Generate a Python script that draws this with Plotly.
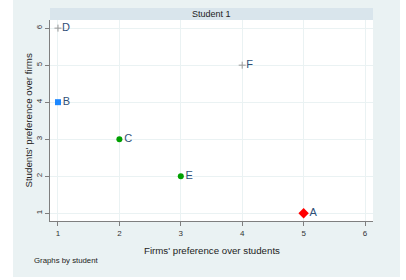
import plotly.graph_objects as go

names = ["A", "B", "C", "D", "E", "F"]
firms_pref = [5, 1, 2, 1, 3, 4]
students_pref = [1, 4, 3, 6, 2, 5]
groups = ["red", "blue", "green", "plus", "green", "plus"]
x_ticks = [1, 2, 3, 4, 5, 6]
y_ticks = [1, 2, 3, 4, 5, 6]
panel_title = "Student 1"

style = {
    "red": dict(color="#ff0000", symbol="diamond", size=8),
    "blue": dict(color="#1e88ff", symbol="square", size=6),
    "green": dict(color="#00a000", symbol="circle", size=6),
    "plus": dict(color="#9a9a9a", symbol="cross-thin", size=5, line=dict(color="#9a9a9a", width=1)),
}

fig = go.Figure()
for g in ["red", "blue", "green", "plus"]:
    idx = [i for i, v in enumerate(groups) if v == g]
    fig.add_trace(go.Scatter(
        x=[firms_pref[i] for i in idx],
        y=[students_pref[i] for i in idx],
        text=[names[i] for i in idx],
        mode="markers+text",
        textposition="middle right",
        textfont=dict(family="Liberation Sans, Arial", size=11, color="#2f4f78"),
        marker=style[g],
        showlegend=False,
        cliponaxis=False,
    ))

bg = "#eaf2f3"
fig.update_layout(
    width=406, height=280,
    margin=dict(l=50, r=33, t=20, b=59),
    paper_bgcolor=bg,
    plot_bgcolor="white",
    font=dict(family="Liberation Sans, Arial", color="#222"),
    shapes=[
        dict(type="rect", xref="paper", yref="paper", x0=-0.2, x1=-0.1146, y0=-0.4, y1=1.2,
             fillcolor="white", line=dict(width=0), layer="above"),
        dict(type="rect", xref="paper", yref="paper", x0=1.0836, x1=1.2, y0=-0.4, y1=1.2,
             fillcolor="white", line=dict(width=0), layer="above"),
        dict(type="rect", xref="paper", yref="paper", x0=-0.2, x1=1.2, y0=-0.4, y1=-0.2786,
             fillcolor="white", line=dict(width=0), layer="above"),
        dict(type="rect", xref="paper", yref="paper", x0=0, x1=1, y0=1.0, y1=1.0597,
             fillcolor="#d9e5ec", line=dict(width=0), layer="below"),
    ],
    annotations=[
        dict(text=panel_title, xref="paper", yref="paper", x=0.5, y=1.03, showarrow=False,
             font=dict(size=9, color="#222"), xanchor="center", yanchor="middle"),
        dict(text="Firms' preference over students", xref="paper", yref="paper", x=0.5, y=-0.145,
             showarrow=False, font=dict(size=9.7, color="#222"), xanchor="center", yanchor="middle"),
        dict(text="Students' preference over firms", xref="paper", yref="paper", x=-0.068, y=0.5,
             showarrow=False, textangle=-90, font=dict(size=9.7, color="#222"),
             xanchor="center", yanchor="middle"),
        dict(text="Graphs by student", xref="paper", yref="paper", x=-0.056, y=-0.199,
             showarrow=False, font=dict(size=7.8, color="#222"), xanchor="left", yanchor="middle"),
    ],
)
fig.update_xaxes(range=[0.87, 6.13], tickvals=x_ticks, showgrid=True, gridcolor=bg, gridwidth=1,
                 zeroline=False, showline=True, linecolor="#7f7f7f", linewidth=1,
                 ticks="outside", ticklen=4, tickcolor="#7f7f7f",
                 tickfont=dict(size=8, color="#333"))
fig.update_yaxes(range=[0.79, 6.22], tickvals=y_ticks, showgrid=True, gridcolor=bg, gridwidth=1,
                 zeroline=False, showline=True, linecolor="#7f7f7f", linewidth=1,
                 ticks="outside", ticklen=4, tickcolor="#7f7f7f", tickangle=-90,
                 tickfont=dict(size=8, color="#333"))

fig.write_html("out.html", config={"displayModeBar": False},
               post_script="document.body.style.margin='0';")
